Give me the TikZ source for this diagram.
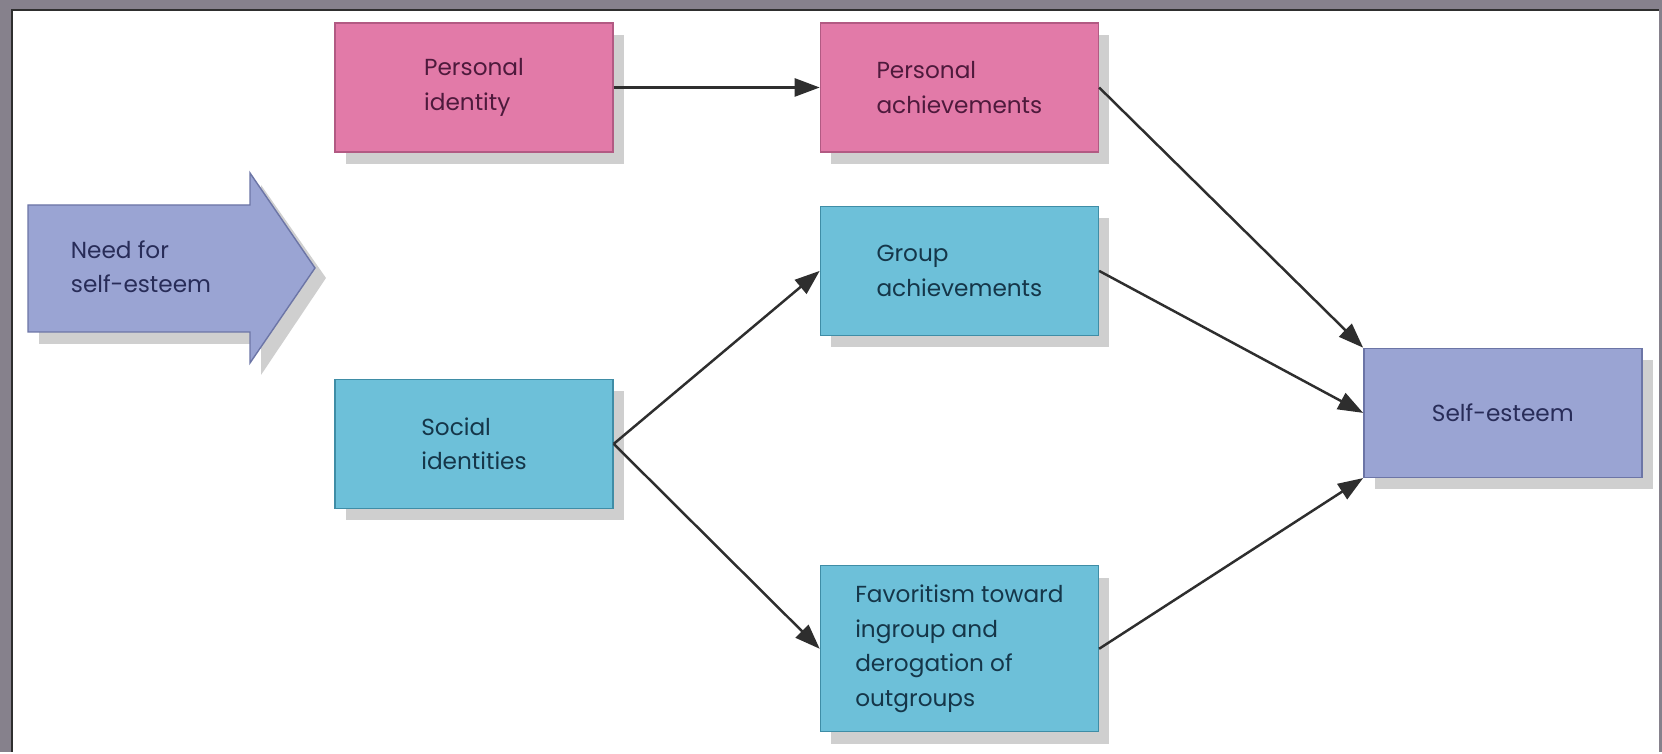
\documentclass[tikz,border=0pt]{standalone}
\usepackage{fontspec}
\setmainfont{Poppins}
\usepackage{tikz}
\usetikzlibrary{positioning, arrows.meta, shadows}
\usepackage{xcolor}
\definecolor{pinkfill}{HTML}{E27AA8}
\definecolor{pinkline}{HTML}{B25A83}
\definecolor{pinktext}{HTML}{4E1A3C}
\definecolor{cyanfill}{HTML}{6DC0D9}
\definecolor{cyanline}{HTML}{3F8DA6}
\definecolor{cyantext}{HTML}{153649}
\definecolor{lavfill}{HTML}{9AA4D3}
\definecolor{lavline}{HTML}{6C75A6}
\definecolor{lavtext}{HTML}{282C58}
\definecolor{shadowgray}{HTML}{CFCFCF}
\definecolor{framegray}{HTML}{86818C}
\definecolor{linegray}{HTML}{2E2E2E}
\tikzstyle{box} = [
rectangle,
minimum width=2.78cm,
minimum height=1.29cm,
align=left,
line width=0.4pt,
font=\fontsize{6.6}{9.8}\selectfont,
drop shadow={shadow xshift=0.11cm, shadow yshift=-0.12cm, fill=shadowgray, opacity=1}
]
\tikzstyle{persbox} = [box, draw=pinkline, fill=pinkfill, text=pinktext]
\tikzstyle{socbox} = [box, draw=cyanline, fill=cyanfill, text=cyantext]
\tikzstyle{goalbox} = [box, draw=lavline, fill=lavfill, text=lavtext]
\tikzstyle{arrow} = [-{Triangle[length=0.25cm,width=0.18cm]}, line width=0.7pt, draw=linegray]

\begin{document}
\begin{tikzpicture}

        % frame
        \fill [framegray] (0,0) rectangle (16.62,7.52);
        \fill [white] (0.12,0) rectangle (16.59,7.42);
        \draw [linegray, line width=0.6pt] (0.12,0) -- (0.12,7.42) -- (16.59,7.42);

        % big arrow
        \fill [shadowgray] (0.39,5.35) -- (2.61,5.35) -- (2.61,5.67) -- (3.26,4.74)
        -- (2.61,3.77) -- (2.61,4.08) -- (0.39,4.08) -- cycle;
        \filldraw [fill=lavfill, draw=lavline, line width=0.4pt] (0.28,5.47) -- (2.50,5.47)
        -- (2.50,5.79) -- (3.15,4.84) -- (2.50,3.89) -- (2.50,4.20) -- (0.28,4.20) -- cycle;
        \node (need) [align=left, text=lavtext, font=\fontsize{6.6}{9.8}\selectfont]
        at (1.41,4.85) {Need for\\self-esteem};

        \node (persid) [persbox] at (4.74,6.645) {Personal\\identity};

        \node (persach) [persbox, right=2.06cm of persid]
        {Personal\\achievements};

        \node (groupach) [socbox, below=0.53cm of persach]
        {Group\\achievements};

        \node (socid) [socbox, below=2.26cm of persid]
        {Social\\identities};

        \node (favor) [socbox, minimum height=1.66cm, below=2.29cm of groupach]
        {Favoritism toward\\ingroup and\\derogation of\\outgroups};

        \node (selfest) [goalbox, right=2.64cm of groupach, yshift=-1.42cm]
        {Self-esteem};

        \draw [arrow] (persid.east)--(persach.west);

        \draw [arrow] (socid.east)--(groupach.west);

        \draw [arrow] (socid.east)--(favor.west);

        \draw [arrow] (persach.east)--(selfest.north west);

        \draw [arrow] (groupach.east)--(selfest.west);

        \draw [arrow] (favor.east)--(selfest.south west);

\end{tikzpicture}
\end{document}
